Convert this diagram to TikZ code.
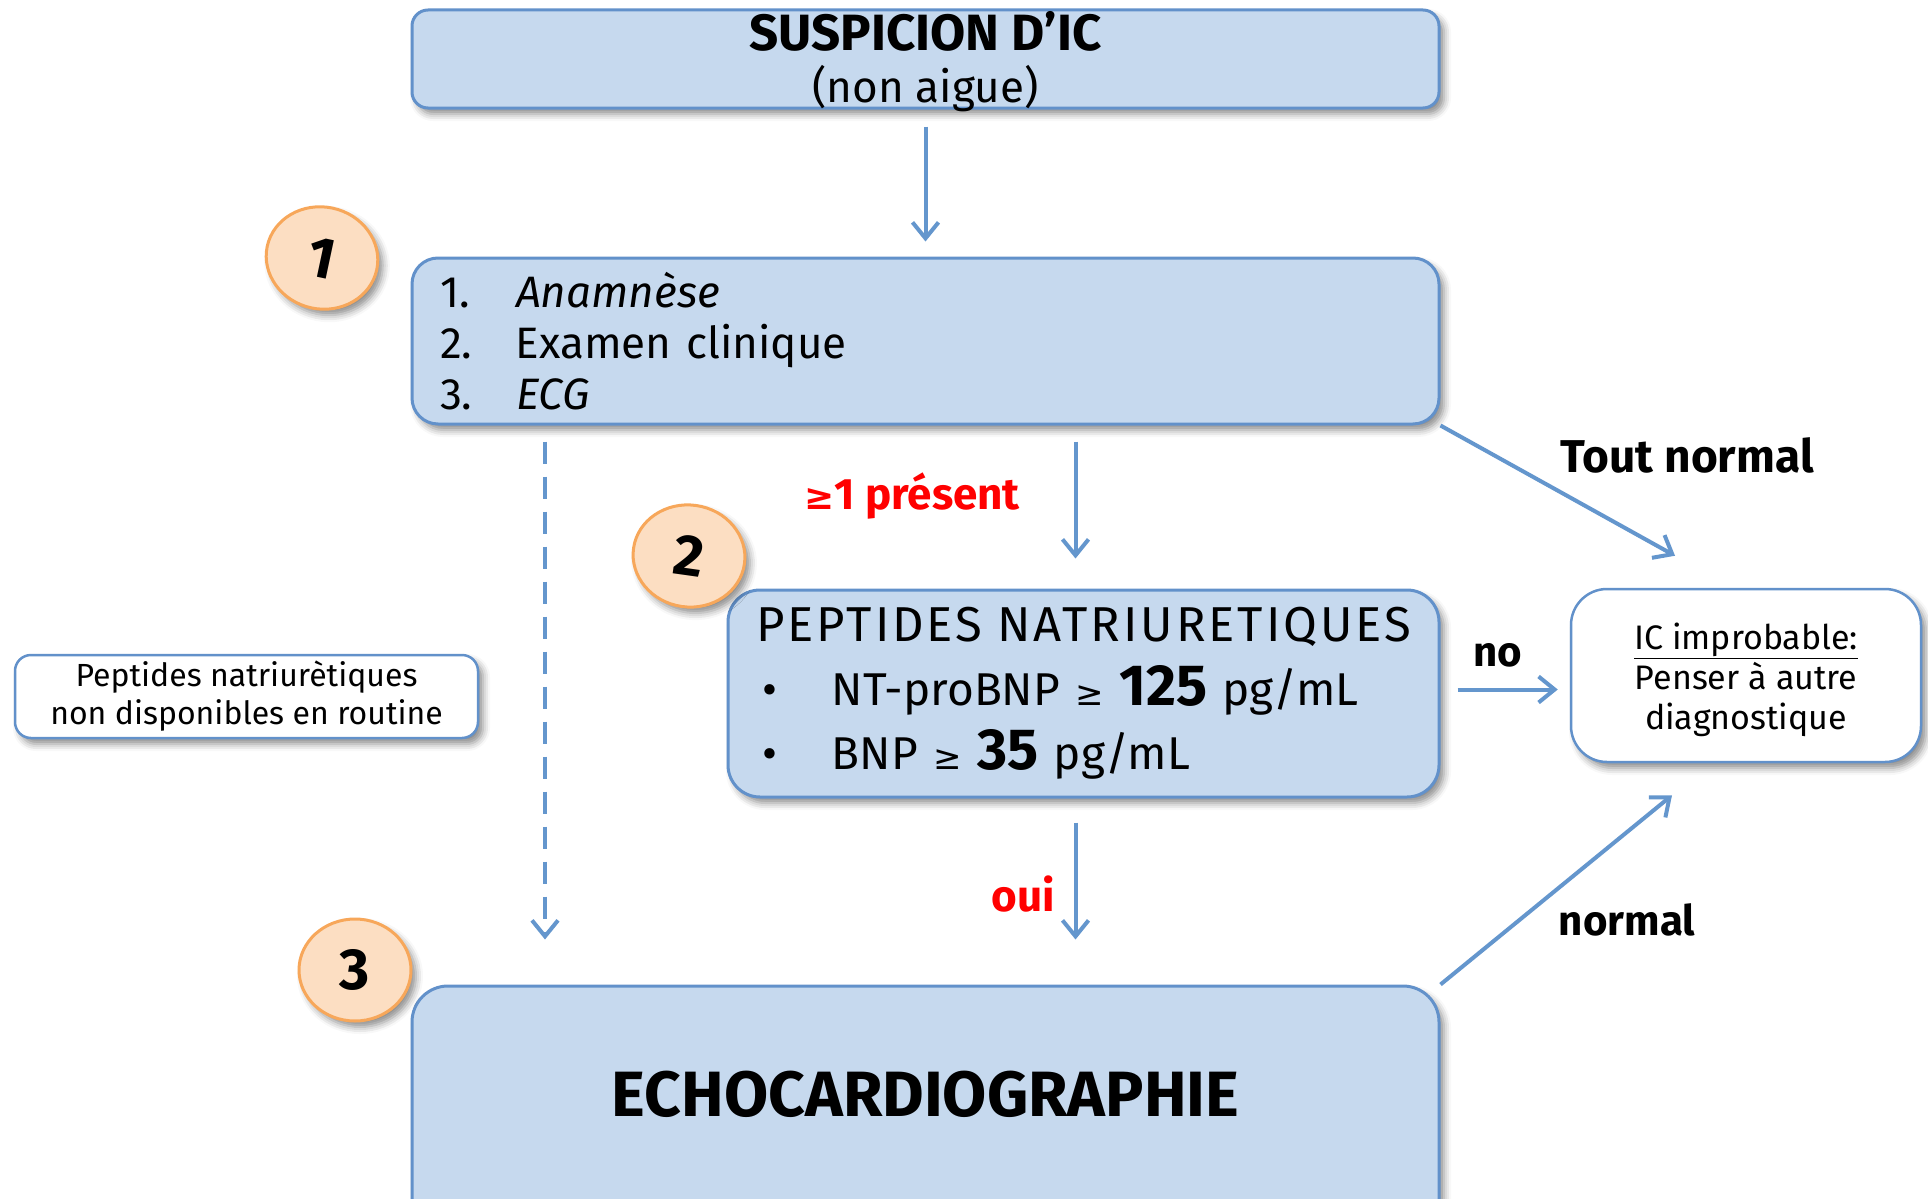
\documentclass[tikz,border=0pt]{standalone}
\usepackage{fontspec}
\setmainfont{Fira Sans}
\newfontfamily\symf{DejaVu Sans}
\usetikzlibrary{arrows.meta,shadows.blur,calc,shapes.geometric}
\definecolor{boxfill}{RGB}{198,217,238}
\definecolor{boxline}{RGB}{98,145,202}
\definecolor{arrowc}{RGB}{100,150,205}
\definecolor{circfill}{RGB}{252,222,194}
\definecolor{circline}{RGB}{247,167,90}
\definecolor{redtxt}{RGB}{255,0,0}
\tikzset{
  shad/.style={blur shadow={shadow xshift=5pt,shadow yshift=-6pt,shadow blur radius=7pt,shadow opacity=45}},
  bluebox/.style={draw=boxline,line width=3pt,fill=boxfill,inner sep=0pt,shad},
  whitebox/.style={draw=boxline,line width=2.5pt,fill=white,inner sep=0pt,shad},
  numcirc/.style={ellipse,draw=circline,line width=3pt,fill=circfill,minimum width=112pt,minimum height=102pt,inner sep=0pt,shad,font=\fontsize{58}{60}\selectfont\bfseries},
  arr/.style={draw=arrowc,line width=4pt,-{Straight Barb[length=16pt,width=26pt,line width=4pt]}},
  lbl/.style={font=\fontsize{42}{48}\selectfont\bfseries,inner sep=0pt},
  redlbl/.style={font=\fontsize{44}{48}\selectfont\bfseries,text=redtxt,inner sep=0pt},
  plain/.style={inner sep=0pt,align=center}
}
\begin{document}
\begin{tikzpicture}[x=1pt,y=-1pt]
\useasboundingbox (0,0) rectangle (1928,1199);
% boxes
\node[bluebox,rounded corners=16pt,minimum width=1027pt,minimum height=98pt] (top) at (925.5,59) {};
\node[plain,font=\fontsize{44}{52}\selectfont] (toptxt) at (925.5,62)
  {{\fontsize{51}{52}\selectfont\bfseries SUSPICION D'IC}\\(non aigue)};
\node[bluebox,rounded corners=26pt,minimum width=1027pt,minimum height=166pt,
  text width=971pt,align=left,font=\fontsize{44}{51}\selectfont] (b1) at (925.5,341)
  {\makebox[76pt][l]{1.}{\itshape Anamnèse}\\\makebox[76pt][l]{2.}Examen clinique\\\makebox[76pt][l]{3.}{\itshape ECG}};
\node[bluebox,rounded corners=32pt,minimum width=711pt,minimum height=207pt,
  text width=655pt,align=left,font=\fontsize{46}{64}\selectfont] (b2) at (1083.5,693.5)
  {{\fontsize{49}{64}\selectfont\addfontfeature{LetterSpace=6}PEPTIDES NATRIURETIQUES}\\
   \makebox[76pt][l]{\hspace*{6pt}•}NT-proBNP {\symf\fontsize{34}{40}\selectfont ≥} {\bfseries\fontsize{58}{64}\selectfont 125} pg/mL\\
   \makebox[76pt][l]{\hspace*{6pt}•}BNP {\symf\fontsize{34}{40}\selectfont ≥} {\bfseries\fontsize{58}{64}\selectfont 35} pg/mL};
\node[bluebox,rounded corners=36pt,minimum width=1027pt,minimum height=320pt] (b3) at (925.5,1146) {};
\node[inner sep=0pt,font=\fontsize{64}{70}\selectfont\bfseries] (echo) at (925.5,1094) {ECHOCARDIOGRAPHIE};
\node[whitebox,rounded corners=16pt,minimum width=463pt,minimum height=83pt,align=center,
  font=\fontsize{32}{38}\selectfont] (nd) at (246.5,696.5)
  {Peptides natriurètiques\\non disponibles en routine};
\node[whitebox,rounded corners=36pt,minimum width=350pt,minimum height=173pt] (ic) at (1746,675.5) {};
\node[plain,font=\fontsize{34}{40}\selectfont] (ictxt) at (1746,680)
  {\underline{IC improbable:}\\Penser à autre\\diagnostique};
% circles
\node[numcirc,rotate=-12] (c1) at (322,258) {1};
\node[numcirc,rotate=-8] (c2) at (689,556) {2};
\node[numcirc] (c3) at (355,970) {3};
% connectors
\draw[arr,shorten <=17pt,shorten >=15pt] (top.south) -- (b1.north);
\draw[arr,shorten <=16pt,shorten >=30pt] ($(b1.south -| b2.north)+(-8,0)$) -- ($(b2.north)+(-8,0)$);
\draw[arr,shorten <=24pt,shorten >=45pt] ($(b2.south)+(-8,0)$) -- ($(b2.south |- b3.north)+(-8,0)$);
\draw[arr,dashed,dash pattern=on 22pt off 13pt,shorten <=16pt,shorten >=45pt] (b1.south -| 545,0) -- (b3.north -| 545,0);
\coordinate (tnend) at ($(ic.north)+(-71,-32)$);
\draw[arr] (b1.south east) -- (tnend);
\draw[arr,shorten <=17pt,shorten >=12pt] ($(b2.east)+(0,-4)$) -- ($(b2.east -| ic.west)+(0,-4)$);
\coordinate (nend) at ($(ic.south)+(-74,32)$);
\draw[arr] (b3.north east) -- (nend);
% labels
\node[lbl,font=\fontsize{46}{50}\selectfont\bfseries] (tn) at (1687,455) {Tout normal};
\node[lbl] (no) at (1498,655) {no};
\node[lbl] (nm) at (1627,920) {normal};
\node[redlbl] (pres) at (912,496) {{\symf\fontsize{36}{40}\selectfont ≥}1 présent};
\node[redlbl] (oui) at (1023,894) {oui};
\end{tikzpicture}
\end{document}
